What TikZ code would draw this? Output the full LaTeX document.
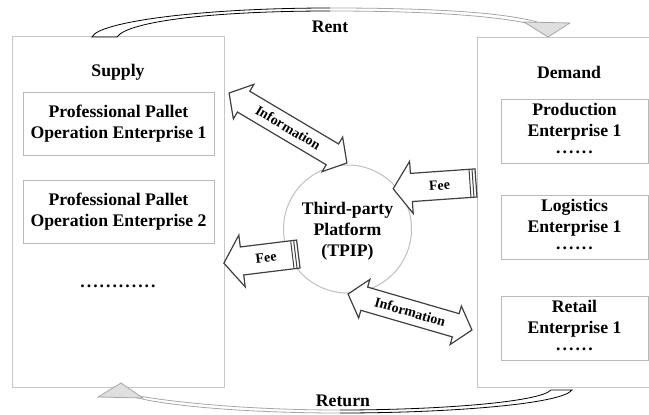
\documentclass[tikz,border=0pt]{standalone}
\usepackage{fontspec}
\setmainfont{Liberation Serif}
\usetikzlibrary{shapes.arrows}
\tikzset{
	every node/.append style={font=\bfseries\fontsize{17.7}{21}\selectfont},
	sidebox/.style={draw=gray!45, line width=1pt, inner sep=0pt, outer sep=0pt},
	firmbox/.style={draw=gray!55, line width=1pt, align=center, inner sep=0pt},
	platform/.style={circle, draw=gray!50, line width=1pt, align=center,
			minimum size=128, inner sep=0pt, text depth=0pt},
	feearrow/.style={single arrow, draw=black!75, fill=white, line width=1.2pt, outer sep=0pt,
			single arrow head extend=12pt, single arrow tip angle=110, shape border rotate=180,
			minimum height=#1, inner sep=0pt, text height=18pt, text depth=9pt,
			font=\bfseries\fontsize{14}{16}\selectfont},
	infoarrow/.style={double arrow, draw=black!75, fill=white, line width=1.2pt, outer sep=0pt,
			double arrow head extend=8pt, double arrow tip angle=100,
			minimum height=#1, inner sep=0pt, text height=16pt, text depth=7pt,
			font=\bfseries\fontsize{14}{16}\selectfont},
	feestripe/.style={draw=black!75, line width=1pt},
	bandline/.style={line width=.8pt},
	turnhead/.style={draw=gray!70, fill=gray!25, line width=.8pt}
}
\newcommand{\sdots}[1]{\foreach \i in {1,...,#1}{\kern1pt.\kern1pt}}

\begin{document}
\begin{tikzpicture}[x=1pt,y=-1pt]
	\useasboundingbox (0,0) rectangle (649,415);

	% Supply side
	\node[sidebox, minimum width=212, minimum height=351] (supply) at (118,211.5) {};
	\node (supplytitle) at (118,72) {Supply};
	\node[firmbox, minimum width=191, minimum height=63] (ppoe1) at (118.5,123.5) {Professional Pallet\\Operation Enterprise 1};
	\node[firmbox, minimum width=191, minimum height=63] (ppoe2) at (118.5,211.5) {Professional Pallet\\Operation Enterprise 2};
	\node (supplydots) at (118,286) {\sdots{12}};

	% Demand side
	\node[sidebox, minimum width=183, minimum height=350] (demand) at (568.5,212) {};
	\node (demandtitle) at (569,72) {Demand};
	\node[firmbox, minimum width=147, minimum height=64, text depth=6pt] (prod) at (574.5,131) {Production\\Enterprise 1\\[-4pt]\sdots{6}};
	\node[firmbox, minimum width=147, minimum height=64, text depth=6pt] (logi) at (574.5,227) {Logistics\\Enterprise 1\\[-4pt]\sdots{6}};
	\node[firmbox, minimum width=147, minimum height=64, text depth=6pt] (retail) at (574.5,328) {Retail\\Enterprise 1\\[-4pt]\sdots{6}};

	% Platform in the middle
	\node[platform] (tpip) at (347.5,229) {Third-party\\Platform\\(TPIP)};

	% Information and fee flows
	\node[infoarrow=137, rotate=-30.7] (info1) at (288,128) {Information};
	\node[infoarrow=129, rotate=-16.2] (info2) at (410,312) {Information};
	\node[feearrow=83, rotate=4] (fee2) at (439.5,185.5) {Fee};
	\node[feearrow=75, rotate=7] (fee1) at (266,258) {Fee};
	\foreach \a/\r in {fee1/187, fee2/184}
		\foreach \d in {3,6}
			\draw[feestripe, shift={(\a.tail)}, rotate=\r] (\d,-13.5) -- (\d,13.5);

	% Rent (supply to demand)
	\path[save path=\rentband] (92,37) .. controls (98,22) and (200,8) .. (330,8)
		.. controls (440,8) and (505,13) .. (537,22) -- (531,24)
		.. controls (500,17) and (440,11) .. (330,11)
		.. controls (215,11) and (128,21) .. (117,37) -- cycle;
	\shade[use path=\rentband, left color=white, middle color=black, right color=gray!40];
	\begin{scope}
		\clip (0,0) rectangle (330,60);
		\draw[bandline, black, use path=\rentband];
	\end{scope}
	\begin{scope}
		\clip (330,0) rectangle (649,60);
		\draw[bandline, gray!70, use path=\rentband];
	\end{scope}
	\draw[turnhead] (524,22) -- (570,23) -- (548,37) -- cycle;
	\node (rent) at (330,27) {Rent};

	% Return (demand to supply)
	\path[save path=\returnband] (572,390) .. controls (562,404) and (450,413) .. (340,413)
		.. controls (240,413) and (165,405) .. (138,398) -- (133,395)
		.. controls (165,401) and (240,410) .. (340,410)
		.. controls (440,410) and (540,402) .. (551,390) -- cycle;
	\shade[use path=\returnband, left color=gray!40, middle color=black, right color=white];
	\begin{scope}
		\clip (0,370) rectangle (340,415);
		\draw[bandline, gray!70, use path=\returnband];
	\end{scope}
	\begin{scope}
		\clip (340,370) rectangle (649,415);
		\draw[bandline, black, use path=\returnband];
	\end{scope}
	\draw[turnhead] (98,397) -- (121,383) -- (143,398) -- cycle;
	\node (return) at (343,401) {Return};
\end{tikzpicture}
\end{document}
